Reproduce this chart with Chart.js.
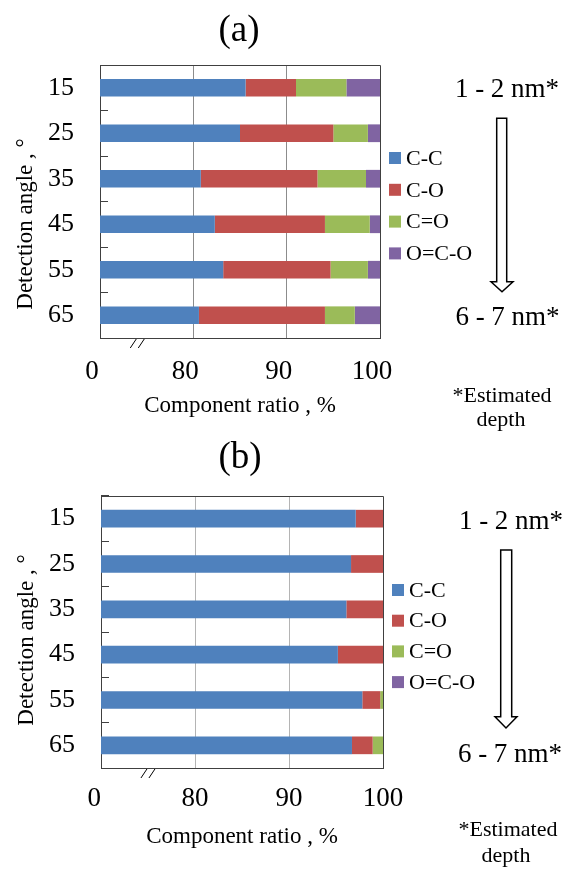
<!DOCTYPE html>
<html>
<head>
<meta charset="utf-8">
<script src="https://cdn.jsdelivr.net/npm/chart.js@4.4.1/dist/chart.umd.min.js"></script>
<style>
  body { margin: 0; background: #fff; }
  canvas { display: block; }
</style>
</head>
<body>
<canvas id="chartA" width="568" height="435"></canvas>
<canvas id="chartB" width="568" height="435"></canvas>
<script>
// categories, series, ticks
var angles = ['15', '25', '35', '45', '55', '65'];
var seriesNames = ['C-C', 'C-O', 'C=O', 'O=C-O'];
var seriesColors = ['#4f81bd', '#c0504d', '#9bbb59', '#8064a2'];
var xTickValues = [70, 80, 90, 100];
var xTickLabels = ['0', '80', '90', '100'];

// (a)
var ccA = [85.6, 85.0, 80.8, 82.3, 83.2, 80.6];
var coA = [5.4, 10.0, 12.5, 11.8, 11.5, 13.5];
var cdoA = [5.4, 3.7, 5.2, 4.8, 4.0, 3.2];
var ocoA = [3.6, 1.3, 1.5, 1.1, 1.3, 2.7];

// (b)
var ccB = [97.1, 96.6, 96.1, 95.2, 97.8, 96.7];
var coB = [2.9, 3.4, 3.9, 4.8, 1.9, 2.2];
var cdoB = [0, 0, 0, 0, 0.3, 1.1];
var ocoB = [0, 0, 0, 0, 0, 0];

var yTitle = 'Detection angle , \u00b0';
var xTitle = 'Component ratio , %';
var depthTop = '1 - 2 nm*';
var depthBottom = '6 - 7 nm*';
var depthNote = ['*Estimated', 'depth'];

var SERIF = "'Liberation Serif', 'Times New Roman', serif";

var panelDecor = {
  id: 'panelDecor',
  afterDraw: function (chart, args, p) {
    var ctx = chart.ctx;
    var area = chart.chartArea;
    var xs = chart.scales.x;
    ctx.save();

    // top / right edge of the plot box
    ctx.strokeStyle = '#404040';
    ctx.lineWidth = 1;
    ctx.beginPath();
    ctx.moveTo(area.left, Math.round(area.top) + 0.5);
    ctx.lineTo(Math.round(area.right) + 0.5, Math.round(area.top) + 0.5);
    ctx.lineTo(Math.round(area.right) + 0.5, area.bottom);
    ctx.stroke();

    // axis break marks
    var bx = xs.getPixelForValue(p.breakAt);
    ctx.strokeStyle = '#000';
    ctx.beginPath();
    for (var i = 0; i < 2; i++) {
      ctx.moveTo(bx - 8 + i * 8, area.bottom + 10);
      ctx.lineTo(bx - 2 + i * 8, area.bottom + 1);
    }
    ctx.stroke();

    ctx.fillStyle = '#000';
    ctx.textAlign = 'center';
    ctx.textBaseline = 'middle';

    // panel label
    ctx.font = '37px ' + SERIF;
    ctx.fillText(p.label, p.labelX, p.labelY);

    // y title
    ctx.save();
    ctx.translate(p.yTitleX, p.yTitleY);
    ctx.rotate(-Math.PI / 2);
    ctx.font = '23px ' + SERIF;
    ctx.fillText(yTitle, 0, 0);
    ctx.restore();

    // legend
    ctx.font = '22px ' + SERIF;
    ctx.textAlign = 'left';
    chart.data.datasets.forEach(function (ds, k) {
      var ly = p.legendY + k * p.legendGap;
      ctx.fillStyle = ds.backgroundColor;
      ctx.fillRect(p.legendX, ly - 6, 12, 12);
      ctx.fillStyle = '#000';
      ctx.fillText(ds.label, p.legendX + 17, ly + 1);
    });

    // hollow arrow
    var a = p.arrow;
    ctx.beginPath();
    ctx.moveTo(a.x1, a.top);
    ctx.lineTo(a.x2, a.top);
    ctx.lineTo(a.x2, a.head);
    ctx.lineTo(a.w2, a.head);
    ctx.lineTo((a.w1 + a.w2) / 2, a.tip);
    ctx.lineTo(a.w1, a.head);
    ctx.lineTo(a.x1, a.head);
    ctx.closePath();
    ctx.fillStyle = '#fff';
    ctx.fill();
    ctx.strokeStyle = '#000';
    ctx.lineWidth = 1.5;
    ctx.stroke();

    // depth texts
    ctx.fillStyle = '#000';
    ctx.textAlign = 'center';
    ctx.font = '27px ' + SERIF;
    ctx.fillText(depthTop, p.topText[0], p.topText[1]);
    ctx.fillText(depthBottom, p.bottomText[0], p.bottomText[1]);
    ctx.font = '22px ' + SERIF;
    ctx.fillText(depthNote[0], p.note1[0], p.note1[1]);
    ctx.fillText(depthNote[1], p.note2[0], p.note2[1]);

    ctx.restore();
  }
};

function makeChart(id, series, p) {
  var datasets = series.map(function (vals, i) {
    return {
      label: seriesNames[i],
      data: vals,
      backgroundColor: seriesColors[i],
      borderWidth: 0,
      barPercentage: 0.39,
      categoryPercentage: 1.0
    };
  });

  return new Chart(document.getElementById(id).getContext('2d'), {
    type: 'bar',
    data: { labels: angles, datasets: datasets },
    plugins: [panelDecor],
    options: {
      indexAxis: 'y',
      responsive: false,
      animation: false,
      layout: { padding: { top: p.top, right: p.right, bottom: 0, left: 0 } },
      scales: {
        x: {
          type: 'linear',
          stacked: true,
          min: 70,
          max: 100,
          afterBuildTicks: function (s) {
            s.ticks = xTickValues.map(function (v) { return { value: v }; });
          },
          afterFit: function (s) { s.height = p.xHeight; },
          grid: {
            drawTicks: false,
            color: function (c) {
              var v = c.tick && c.tick.value;
              return (v === 80 || v === 90) ? p.gridColor : 'rgba(0,0,0,0)';
            }
          },
          border: { display: true, color: '#404040' },
          ticks: {
            color: '#000',
            font: { family: SERIF, size: 27 },
            padding: p.xPad,
            labelOffset: p.labelOffset,
            maxRotation: 0,
            autoSkip: false,
            callback: function (v, i) {
              return xTickLabels[i] + (i === 0 ? p.zeroPad : '');
            }
          },
          title: {
            display: true,
            text: xTitle,
            color: '#000',
            font: { family: SERIF, size: 23 },
            padding: { top: 0, bottom: p.xTitlePad }
          }
        },
        y: {
          stacked: true,
          afterFit: function (s) { s.width = p.yWidth; },
          grid: {
            drawOnChartArea: false,
            drawTicks: true,
            tickLength: -8,
            tickColor: '#404040'
          },
          border: { display: true, color: '#404040' },
          ticks: {
            color: '#000',
            font: { family: SERIF, size: 26 },
            padding: 34
          }
        }
      },
      plugins: {
        legend: { display: false },
        tooltip: { enabled: false },
        panelDecor: p
      }
    }
  });
}

makeChart('chartA', [ccA, coA, cdoA, ocoA], {
  top: 65, right: 188, yWidth: 100, xHeight: 97,
  xPad: 18, xTitlePad: 15, labelOffset: -8, zeroPad: '',
  gridColor: '#8c8c8c', breakAt: 74.1,
  label: '(a)', labelX: 239, labelY: 31,
  yTitleX: 26, yTitleY: 224,
  legendX: 389, legendY: 158, legendGap: 31.8,
  arrow: { x1: 496.7, x2: 506.7, top: 118.3, head: 281.7, w1: 491, w2: 513, tip: 291.7 },
  topText: [507, 90], bottomText: [507.5, 318],
  note1: [502, 396], note2: [501, 420]
});

makeChart('chartB', [ccB, coB, cdoB, ocoB], {
  top: 61, right: 185, yWidth: 101, xHeight: 102,
  xPad: 15, xTitlePad: 19, labelOffset: 0, zeroPad: '\u00a0\u00a0',
  gridColor: '#b4b4b4', breakAt: 75.1,
  label: '(b)', labelX: 240, labelY: 23,
  yTitleX: 27, yTitleY: 205,
  legendX: 392, legendY: 155, legendGap: 30.7,
  arrow: { x1: 500.7, x2: 511.7, top: 115, head: 281.7, w1: 495, w2: 517, tip: 293 },
  topText: [511, 87], bottomText: [510, 320],
  note1: [508, 395], note2: [506, 421]
});
</script>
</body>
</html>
